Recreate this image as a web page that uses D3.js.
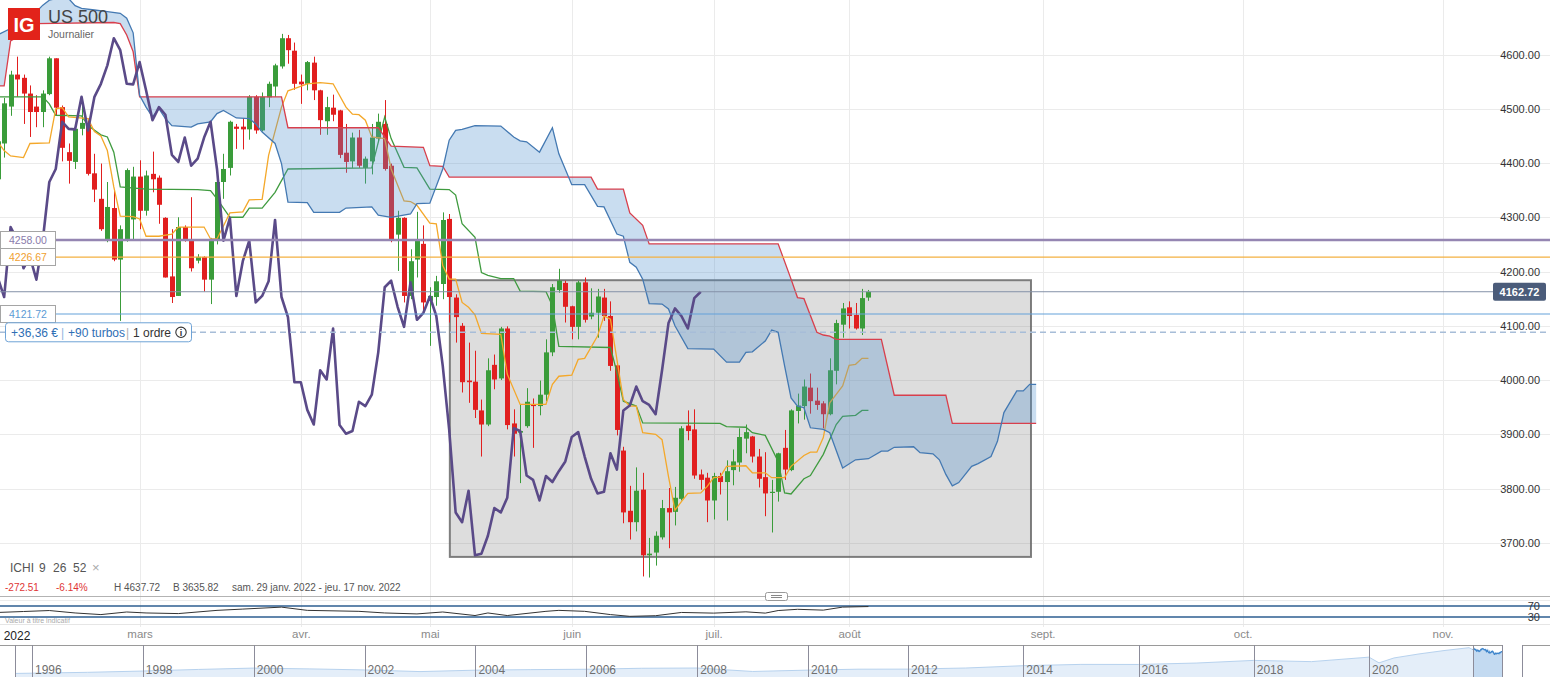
<!DOCTYPE html>
<html><head><meta charset="utf-8">
<script src="https://cdn.jsdelivr.net/npm/d3@7"></script>
<style>
html,body{margin:0;padding:0;background:#fff;overflow:hidden}
svg{display:block;font-family:"Liberation Sans",Arial,sans-serif}
</style></head><body>
<svg id="chart" width="1550" height="677"></svg>
<script>
// ---------------- DATA ----------------
const open=[4370,4436,4504,4563,4557,4528,4504,4494,4527,4593, 4503,4420,4402,4463,4471,4381,4334,4259,4317,4222, 4259,4296,4375,4312,4380,4373,4299,4191,4155,4282, 4259,4220,4227,4185,4259,4365,4391,4467,4467,4462, 4522,4460,4521,4541,4578,4630,4607,4550,4546,4585, 4534,4477,4502,4497,4419,4403,4447,4391,4403,4445, 4472,4395,4268,4299,4155,4222,4251,4146,4153,4177, 4297,4152,4100,3999,3997,3944,3918,4028,4003,4095, 3920,3903,3915,3955,3952,3973,4051,4166,4179,4136, 4098,4180,4117,4124,4152,4118,4027,3870,3759,3738, 3798,3677,3682,3710,3764,3757,3781,3916,3909,3826, 3820,3778,3823,3812,3834,3848,3892,3896,3859,3821, 3792,3794,3875,3834,3943,3952,3986,3962,3957,3937, 4017,4102,4134,4120,4095,4152];
const high=[4460,4520,4570,4596,4563,4543,4525,4534,4596,4593, 4506,4436,4469,4519,4482,4417,4399,4365,4352,4285, 4390,4393,4405,4386,4421,4377,4300,4278,4300,4285, 4337,4232,4228,4262,4368,4417,4478,4472,4483,4525, 4525,4530,4550,4583,4638,4636,4622,4563,4588,4596, 4535,4522,4526,4498,4472,4456,4461,4412,4472,4491, 4516,4399,4312,4300,4241,4310,4285,4171,4192,4309, 4306,4158,4105,4069,4054,3964,4040,4047,4098,4099, 3946,3955,3985,3966,3999,4075,4177,4205,4183,4137, 4183,4189,4169,4168,4168,4145,4031,3877,3805,3839, 3829,3709,3721,3779,3801,3803,3915,3944,3946,3835, 3829,3829,3829,3852,3872,3911,3918,3897,3873,3867, 3816,3866,3908,3946,3975,4001,4012,3986,3961,4040, 4111,4142,4145,4142,4168,4166];
const low=[4360,4410,4487,4522,4472,4448,4466,4466,4525,4488, 4403,4362,4389,4451,4377,4328,4275,4254,4219,4109, 4255,4259,4278,4303,4346,4288,4189,4142,4155,4255, 4200,4215,4163,4140,4250,4334,4377,4426,4425,4443, 4454,4458,4503,4522,4574,4583,4535,4509,4534,4516, 4452,4452,4477,4409,4382,4391,4391,4362,4379,4439, 4386,4254,4201,4143,4149,4189,4128,4063,4137,4149, 4106,4069,3977,3958,3930,3859,3915,3983,4000,3909, 3859,3810,3912,3875,3935,3961,4044,4161,4106,4075, 4075,4106,4112,4078,4109,4017,3898,3736,3706,3721, 3638,3636,3658,3706,3690,3732,3778,3889,3818,3798, 3738,3743,3789,3741,3806,3831,3865,3848,3802,3749, 3719,3776,3816,3832,3920,3927,3938,3945,3911,3935, 3992,4078,4095,4093,4083,4146];
const close=[4440,4510,4563,4554,4528,4494,4494,4528,4593,4502, 4428,4404,4463,4474,4380,4351,4278,4319,4222,4278, 4387,4375,4312,4377,4370,4323,4189,4153,4282,4259, 4206,4227,4185,4259,4365,4389,4476,4463,4462,4522, 4460,4522,4546,4580,4630,4608,4546,4545,4586,4534, 4479,4503,4489,4415,4402,4447,4395,4408,4447,4476, 4389,4257,4299,4155,4219,4257,4143,4155,4182,4295, 4153,4116,3996,3996,3945,3918,4018,4001,4095,3917, 3901,3906,3960,3952,3973,4051,4171,4183,4135,4098, 4180,4111,4124,4154,4118,4026,3908,3756,3738,3796, 3677,3680,3713,3764,3756,3783,3911,3906,3824,3816, 3778,3823,3812,3832,3850,3895,3904,3859,3818,3791, 3794,3865,3835,3944,3953,3988,3961,3954,3937,4018, 4105,4132,4118,4095,4151,4162.72];

// Ichimoku lines: [candle index, price]
const tenkan=[[0,4439],[1,4423],[2,4413],[4,4410],[5,4436],[8,4437],[9,4500],[10,4502],[11,4485],[14,4482],[15,4458],[16,4450],[17,4423],[18,4356],[19,4302],[21,4301],[22,4297],[23,4265],[25,4265],[27,4269],[28,4282],[32,4282],[33,4260],[34,4260],[36,4308],[38,4310],[39,4332],[41,4333],[42,4414],[44,4503],[45,4533],[46,4537],[48,4546],[50,4548],[52,4546],[54,4503],[55,4490],[56,4489],[57,4479],[58,4448],[60,4445],[61,4389],[63,4330],[64,4329],[65,4322],[67,4289],[68,4288],[69,4211],[70,4186],[71,4186],[72,4143],[73,4134],[74,4120],[75,4086],[78,4084],[79,4011],[81,3955],[85,3955],[86,3992],[87,4007],[89,4009],[90,4038],[91,4040],[93,4081],[94,4118],[95,4112],[96,4038],[97,3964],[98,3952],[99,3952],[100,3903],[102,3900],[103,3890],[104,3822],[105,3760],[106,3776],[107,3791],[109,3792],[110,3804],[111,3820],[112,3821],[113,3841],[116,3842],[117,3829],[119,3829],[120,3820],[122,3820],[123,3841],[125,3861],[126,3867],[127,3867],[128,3894],[129,3958],[131,3989],[132,4027],[133,4029],[134,4040],[135,4040]];
const kijun=[[0,4522],[7,4522],[8,4509],[9,4488],[13,4487],[14,4469],[16,4452],[17,4448],[18,4420],[19,4356],[23,4352],[31,4351],[33,4349],[34,4334],[36,4300],[38,4300],[39,4317],[41,4317],[43,4346],[45,4389],[58,4391],[60,4485],[61,4445],[63,4392],[65,4391],[67,4352],[70,4351],[71,4341],[72,4288],[74,4263],[75,4198],[76,4193],[78,4187],[80,4187],[81,4164],[85,4163],[86,4137],[87,4062],[95,4060],[96,4014],[97,3961],[99,3952],[100,3921],[112,3920],[113,3914],[116,3913],[117,3903],[119,3898],[121,3850],[122,3792],[123,3790],[125,3818],[126,3824],[128,3863],[130,3918],[131,3933],[133,3935],[134,3944],[135,3944]];
const senkouA=[[0,4636],[2,4648],[4,4667],[5,4673],[6,4679],[7,4691],[8,4700],[9,4703],[11,4703],[12,4690],[13,4685],[15,4682],[17,4679],[19,4676],[20,4667],[21,4640],[22,4525],[23,4503],[24,4485],[25,4500],[26,4482],[27,4469],[30,4466],[31,4472],[33,4476],[34,4491],[35,4497],[37,4483],[39,4482],[40,4472],[41,4457],[43,4436],[44,4399],[45,4328],[48,4327],[49,4309],[53,4309],[54,4317],[58,4319],[59,4304],[61,4300],[64,4306],[65,4325],[67,4326],[69,4389],[70,4442],[71,4460],[72,4462],[74,4469],[78,4468],[80,4448],[81,4441],[82,4439],[84,4420],[86,4465],[87,4417],[89,4360],[91,4360],[93,4320],[94,4319],[96,4269],[97,4265],[98,4217],[99,4208],[100,4186],[101,4141],[103,4140],[104,4131],[105,4100],[107,4058],[111,4057],[113,4033],[115,4033],[116,4051],[117,4052],[119,4072],[120,4092],[121,4088],[122,4026],[123,3967],[124,3952],[125,3949],[126,3912],[128,3909],[129,3903],[131,3838],[133,3853],[135,3855],[137,3869],[138,3869],[139,3876],[142,3877],[143,3866],[145,3864],[146,3853],[147,3826],[148,3805],[149,3811],[151,3841],[152,3846],[154,3859],[155,3887],[156,3940],[158,3980],[159,3980],[160,3992],[161,3992]];
const senkouB=[[0,4542],[1,4542],[2,4625],[3,4632],[4,4636],[5,4645],[6,4657],[18,4659],[19,4657],[20,4636],[21,4605],[22,4522],[44,4522],[45,4465],[59,4465],[61,4431],[66,4429],[67,4395],[69,4394],[70,4374],[92,4374],[93,4352],[97,4352],[98,4308],[100,4285],[101,4251],[121,4251],[123,4186],[124,4152],[125,4150],[127,4088],[128,4083],[129,4081],[130,4075],[137,4075],[139,3972],[147,3972],[148,3920],[161,3920]];
const chikouShift=26;

// lower indicator (values 0-100): [candle index, value]
const oscillator=[[0,46.5],[4,50],[8,53.5],[12,44.7],[16,38.8],[20,48.2],[23,44.7],[28,42.4],[34,54.1],[38,58.8],[44,65.9],[48,54.1],[56,50.6],[60,44.7],[65,41.2],[69,48.2],[74,35.3],[76,44.7],[79,35.3],[85,50.6],[87,54.1],[91,50.6],[95,38.8],[98,32.4],[102,34.7],[106,46.5],[111,44.1],[116,48.8],[119,44.1],[121,53.5],[124,58],[128,55],[131,66],[135,68]];
const oscLevels=[70,30];

const yTicks=[3700,3800,3900,4000,4100,4200,4300,4400,4500,4600];
const monthIdx=[22,47,67,89,111,132,162,193,224];
const monthLabels=["mars","avr.","mai","juin","juil.","août","sept.","oct.","nov."];
const yearLabel="2022";

const levelPurple=4258.00, levelOrange=4226.67, levelLast=4162.72, levelBlue=4121.72, levelPosition=4088;
const boxIdx=[70.1,160.2], boxPrice=[3674,4184];

const navYears=[1995.7,1996,1997,1998,1999,2000,2001,2002,2003,2004,2005,2006,2007,2008,2009,2010,2011,2012,2013,2014,2015,2016,2017,2018,2019,2020,2020.2,2020.5,2021,2021.5,2022.0,2022.08];
const navValues=[580,620,760,970,1230,1450,1320,1150,880,1110,1200,1260,1420,1460,900,1120,1270,1280,1460,1840,2050,2040,2270,2700,2500,3230,2300,3100,3750,4300,4770,4430];
const navTickYears=[1996,1998,2000,2002,2004,2006,2008,2010,2012,2014,2016,2018,2020];
const windowYears=[2022.08,2022.88];

// ---------------- DRAW ----------------
const W=1550,H=677,PB=596;
const FONT='"Liberation Sans",Arial,sans-serif';
const svg=d3.select("#chart");
const x=d3.scaleLinear().domain([0,135]).range([-2.3,868.45]);
const y=d3.scaleLinear().domain([3700,4600]).range([542.8,54.5]);
const oy=d3.scaleLinear().domain([30,70]).range([617,606]);
const px=v=>Math.round(v)+0.5;

svg.append("defs").append("clipPath").attr("id","pc").append("rect").attr("x",0).attr("y",0).attr("width",W).attr("height",PB);

// grid
svg.append("g").selectAll("line").data(yTicks).join("line")
  .attr("x1",0).attr("x2",W).attr("y1",d=>px(y(d))).attr("y2",d=>px(y(d))).attr("stroke","#ebebeb");
svg.append("g").selectAll("line").data(monthIdx).join("line")
  .attr("x1",d=>px(x(d))).attr("x2",d=>px(x(d))).attr("y1",0).attr("y2",627).attr("stroke","#ebebeb");

const plot=svg.append("g").attr("clip-path","url(#pc)");

// drawn rectangle
plot.append("rect")
  .attr("x",x(boxIdx[0])).attr("y",y(boxPrice[1]))
  .attr("width",x(boxIdx[1])-x(boxIdx[0])).attr("height",y(boxPrice[0])-y(boxPrice[1]))
  .attr("fill","#808080").attr("fill-opacity",0.27)
  .attr("stroke","#6a6a6a").attr("stroke-opacity",0.85).attr("stroke-width",2);

// candles
const idx=d3.range(close.length);
const up="#3a9c3a", dn="#e11f1f";
const cg=plot.append("g");
cg.selectAll("line").data(idx).join("line")
  .attr("x1",i=>px(x(i))).attr("x2",i=>px(x(i)))
  .attr("y1",i=>y(high[i])).attr("y2",i=>y(low[i]))
  .attr("stroke",i=>close[i]>=open[i]?up:dn).attr("stroke-width",1);
cg.selectAll("rect").data(idx).join("rect")
  .attr("x",i=>Math.round(x(i))-2).attr("width",5)
  .attr("y",i=>y(Math.max(open[i],close[i])))
  .attr("height",i=>Math.max(1.2,Math.abs(y(open[i])-y(close[i]))))
  .attr("fill",i=>close[i]>=open[i]?up:dn);

const line=d3.line().x(d=>x(d[0])).y(d=>y(d[1]));
plot.append("path").attr("d",line(kijun)).attr("fill","none").attr("stroke","#3f9b3f").attr("stroke-width",1.3);
plot.append("path").attr("d",line(tenkan)).attr("fill","none").attr("stroke","#f4a82a").attr("stroke-width",1.3);

// cloud
const cloudPts=senkouA.concat(senkouB.slice().reverse());
plot.append("path").attr("d",line(cloudPts)+"Z").attr("fill","rgb(80,146,207)").attr("fill-opacity",0.31).attr("fill-rule","evenodd").attr("stroke","none");
plot.append("path").attr("d",line(senkouB)).attr("fill","none").attr("stroke","#d83f4c").attr("stroke-width",1.3);
plot.append("path").attr("d",line(senkouA)).attr("fill","none").attr("stroke","#4479b2").attr("stroke-width",1.3);

// lagging line (closes shifted back)
const chikou=close.slice(chikouShift).map((c,i)=>[i,c]);
plot.append("path").attr("d",line(chikou)).attr("fill","none").attr("stroke","#5a4a88").attr("stroke-width",2.6).attr("stroke-linejoin","round");

// horizontal levels
const hl=(v,col,w,x2,dash)=>{const l=svg.append("line").attr("x1",0).attr("x2",x2).attr("y1",y(v)).attr("y2",y(v)).attr("stroke",col).attr("stroke-width",w); if(dash) l.attr("stroke-dasharray",dash);};
hl(levelPosition,"#a7bdd8",1.5,W,"6,4");
hl(levelBlue,"#64a2da",1.2,W);
hl(levelLast,"#8592a8",1,1493);
hl(levelOrange,"#f3b040",1.2,W);
hl(levelPurple,"#9586b2",2.4,W);

// left level labels
const lab=(v,txt,col)=>{const g=svg.append("g");
  g.append("rect").attr("x",0.5).attr("y",Math.round(y(v))-8.5).attr("width",55).attr("height",17).attr("fill","#fff").attr("stroke","#a5a5a5");
  g.append("text").attr("x",9).attr("y",y(v)+4).attr("font-size",10.5).attr("fill",col).attr("font-family",FONT).text(txt);};
lab(levelPurple,d3.format(".2f")(levelPurple),"#8a7bab");
lab(levelOrange,d3.format(".2f")(levelOrange),"#f0a030");
lab(levelBlue,d3.format(".2f")(levelBlue),"#5b9bd5");

// position box
const pb=svg.append("g").attr("font-family",FONT).attr("font-size",12);
const py=y(levelPosition);
pb.append("rect").attr("x",5.5).attr("y",py-9.5).attr("width",186).attr("height",19).attr("rx",3).attr("fill","#fff").attr("stroke","#6fa3d6");
pb.append("text").attr("x",11).attr("y",py+4.5).attr("fill","#2f6fb5").text("+36,36 €");
pb.append("text").attr("x",61).attr("y",py+4.5).attr("fill","#8fb6e0").text("|");
pb.append("text").attr("x",68).attr("y",py+4.5).attr("fill","#2f6fb5").text("+90 turbos");
pb.append("text").attr("x",126).attr("y",py+4.5).attr("fill","#b0b0b0").text("|");
pb.append("text").attr("x",133).attr("y",py+4.5).attr("fill","#333").text("1 ordre");
pb.append("circle").attr("cx",181).attr("cy",py).attr("r",5.2).attr("fill","none").attr("stroke","#333").attr("stroke-width",1.1);
pb.append("text").attr("x",181).attr("y",py+3.5).attr("text-anchor","middle").attr("font-size",9).attr("font-weight","bold").attr("fill","#333").text("i");

// y axis
const ya=svg.append("g").attr("transform","translate(1540,0)")
  .call(d3.axisLeft(y).tickValues(yTicks).tickSize(0).tickPadding(0).tickFormat(d3.format(".2f")));
ya.select(".domain").remove();
ya.attr("font-size",11).attr("font-family",FONT).selectAll("text").attr("fill","#333");

// last price label
svg.append("rect").attr("x",1493).attr("y",y(levelLast)-9).attr("width",53).attr("height",18).attr("rx",2).attr("fill","#4b5c7a");
svg.append("text").attr("x",1519.5).attr("y",y(levelLast)+4).attr("text-anchor","middle").attr("font-size",11).attr("font-weight","bold").attr("fill","#fff").attr("font-family",FONT).text(d3.format(".2f")(levelLast));

// header
svg.append("rect").attr("x",8).attr("y",8).attr("width",32).attr("height",32).attr("fill","#e2231a");
svg.append("text").attr("x",24).attr("y",31.5).attr("text-anchor","middle").attr("font-size",20).attr("font-weight","bold").attr("fill","#fff").attr("font-family",FONT).text("IG");
svg.append("text").attr("x",48).attr("y",23).attr("font-size",18).attr("fill","#444").attr("font-family",FONT).text("US 500");
svg.append("text").attr("x",48).attr("y",38).attr("font-size",10.5).attr("fill","#666").attr("font-family",FONT).text("Journalier");

// indicator legend & stats
const lg=svg.append("text").attr("y",572).attr("font-size",12).attr("fill","#555").attr("font-family",FONT);
lg.append("tspan").attr("x",10).text("ICHI");
lg.append("tspan").attr("x",39).text("9");
lg.append("tspan").attr("x",53).text("26");
lg.append("tspan").attr("x",73).text("52");
lg.append("tspan").attr("x",92).attr("fill","#aaa").attr("font-size",13).text("×");
const st=svg.append("text").attr("y",591).attr("font-size",10).attr("fill","#555").attr("font-family",FONT);
st.append("tspan").attr("x",5).attr("fill","#e03535").text("-272.51");
st.append("tspan").attr("x",56).attr("fill","#e03535").text("-6.14%");
st.append("tspan").attr("x",114).text("H 4637.72");
st.append("tspan").attr("x",173).text("B 3635.82");
st.append("tspan").attr("x",232).text("sam. 29 janv. 2022 - jeu. 17 nov. 2022");

// lower panel
svg.append("line").attr("x1",0).attr("x2",W).attr("y1",596.5).attr("y2",596.5).attr("stroke","#b3b3b3");
svg.append("line").attr("x1",0).attr("x2",W).attr("y1",600.5).attr("y2",600.5).attr("stroke","#ececec");
svg.append("line").attr("x1",0).attr("x2",W).attr("y1",624.5).attr("y2",624.5).attr("stroke","#e6e6e6");
svg.append("rect").attr("x",765.5).attr("y",592.5).attr("width",22).attr("height",8).attr("rx",2).attr("fill","#fff").attr("stroke","#999");
svg.append("line").attr("x1",771).attr("x2",782).attr("y1",595.5).attr("y2",595.5).attr("stroke","#888");
svg.append("line").attr("x1",771).attr("x2",782).attr("y1",597.5).attr("y2",597.5).attr("stroke","#888");
svg.append("g").selectAll("line").data(oscLevels).join("line")
  .attr("x1",0).attr("x2",W).attr("y1",d=>oy(d)).attr("y2",d=>oy(d)).attr("stroke","#2d5e90").attr("stroke-width",1.3);
svg.append("path").attr("d",d3.line().x(d=>x(d[0])).y(d=>oy(d[1]))(oscillator)).attr("fill","none").attr("stroke","#333").attr("stroke-width",1);
svg.append("g").selectAll("text").data(oscLevels).join("text")
  .attr("x",1540).attr("y",d=>oy(d)+4).attr("text-anchor","end").attr("font-size",11).attr("fill","#333").attr("font-family",FONT).text(d=>d);
svg.append("text").attr("x",5).attr("y",623).attr("font-size",7).attr("fill","#aaa").attr("font-family",FONT).text("Valeur à titre indicatif");

// x axis
const xa=svg.append("g").attr("transform","translate(0,630)")
  .call(d3.axisBottom(x).tickValues(monthIdx).tickSize(0).tickPadding(0).tickFormat((d,i)=>monthLabels[i]));
xa.select(".domain").remove();
xa.attr("font-size",11.5).attr("font-family",FONT).selectAll("text").attr("fill","#8a8a8a");
svg.append("text").attr("x",x(3)).attr("y",640).attr("text-anchor","middle").attr("font-size",12).attr("fill","#222").attr("font-family",FONT).text(yearLabel);

// navigator
const navX=d3.scaleLinear().domain([1996,2010,2012,2020,windowYears[0],windowYears[1]]).range([32,808,908,1369,1473,1502]);
const navY=d3.scaleLinear().domain([0,4800]).range([677,647.5]);
svg.append("defs").append("clipPath").attr("id","nc").append("rect").attr("x",0).attr("y",646).attr("width",navX(windowYears[0])).attr("height",31);
const ng=svg.append("g").attr("clip-path","url(#nc)");
const navPts=navYears.map((yr,i)=>[yr,navValues[i]]);
ng.append("path").attr("d",d3.area().x(d=>navX(d[0])).y0(677).y1(d=>navY(d[1]))(navPts)).attr("fill","#e4eef9");
ng.append("path").attr("d",d3.line().x(d=>navX(d[0])).y(d=>navY(d[1]))(navPts)).attr("fill","none").attr("stroke","#b7d2ee");
const wx=d3.scaleLinear().domain([0,close.length-1]).range([navX(windowYears[0]),navX(windowYears[1])]);
svg.append("path").attr("d",d3.area().x((d,i)=>wx(i)).y0(677).y1(d=>navY(d))(close)).attr("fill","#c3daf1");
svg.append("path").attr("d",d3.line().x((d,i)=>wx(i)).y(d=>navY(d))(close)).attr("fill","none").attr("stroke","#3f86cc").attr("stroke-width",1.1);
svg.append("line").attr("x1",0).attr("x2",navX(windowYears[1])).attr("y1",645.5).attr("y2",645.5).attr("stroke","#9a9a9a");
svg.append("line").attr("x1",1522).attr("x2",W).attr("y1",645.5).attr("y2",645.5).attr("stroke","#9a9a9a");
const vlines=[15].concat(navTickYears.map(navX)).concat([navX(windowYears[0]),navX(windowYears[1]),1522]);
svg.append("g").selectAll("line").data(vlines).join("line")
  .attr("x1",d=>px(d)).attr("x2",d=>px(d)).attr("y1",645).attr("y2",677).attr("stroke","#8c8c9a");
svg.append("g").selectAll("text").data(navTickYears).join("text")
  .attr("x",d=>navX(d)+3).attr("y",674).attr("font-size",12).attr("fill","#707070").attr("font-family",FONT).text(d=>d);
</script>
</body></html>
